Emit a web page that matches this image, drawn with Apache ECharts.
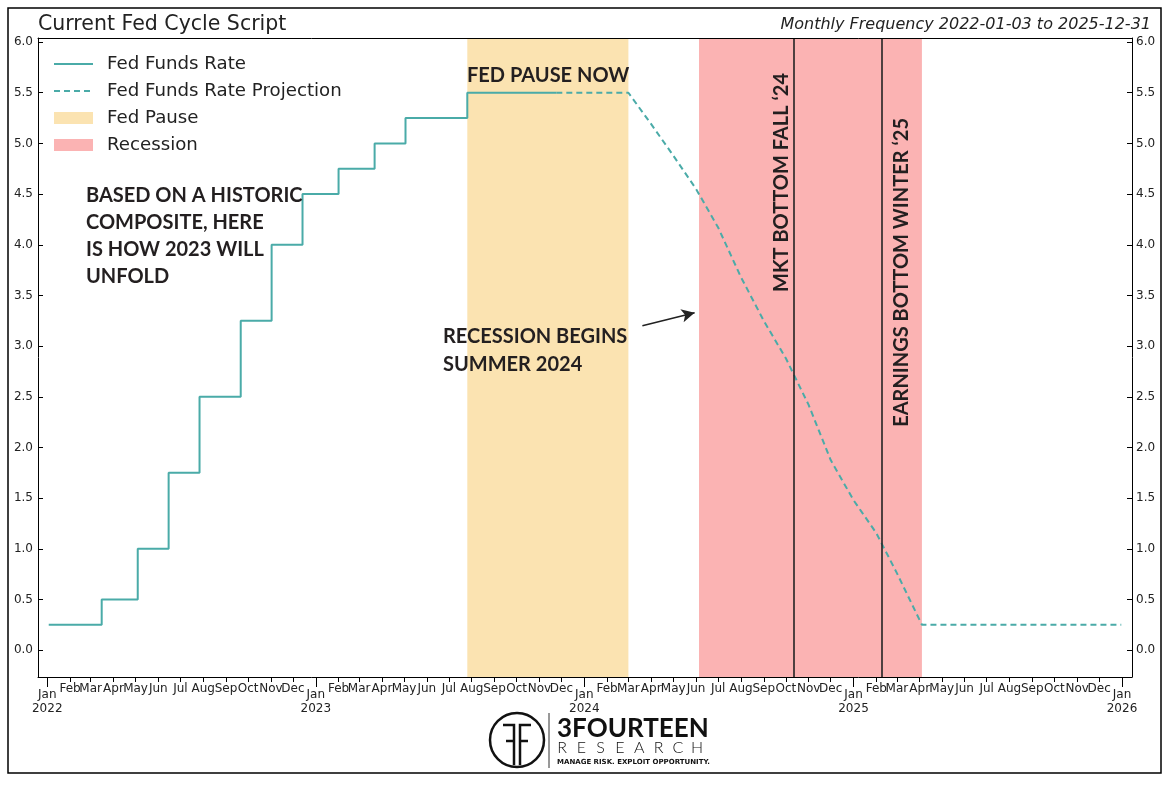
<!DOCTYPE html>
<html>
<head>
<meta charset="utf-8">
<script src="https://cdn.jsdelivr.net/npm/echarts@6/dist/echarts.min.js"></script>
<style>
html,body{margin:0;padding:0;background:#fff;}
#chart{width:1171px;height:785px;}
</style>
</head>
<body>
<div id="chart"></div>
<script>
// ---------------- data ----------------
const rateDates  = ['2022-01-03','2022-03-16','2022-05-04','2022-06-15','2022-07-27','2022-09-21','2022-11-02','2022-12-14','2023-02-01','2023-03-22','2023-05-03','2023-07-26','2023-11-24'];
const rateValues = [0.25, 0.5, 1.0, 1.75, 2.5, 3.25, 4.0, 4.5, 4.75, 5.0, 5.25, 5.5, 5.5];

const projDates  = ['2023-11-24','2024-03-01','2024-04-01','2024-05-01','2024-06-01','2024-07-01','2024-08-01','2024-09-01','2024-10-01','2024-11-01','2024-12-01','2025-01-01','2025-02-01','2025-03-01','2025-04-04','2025-12-31'];
const projValues = [5.5, 5.5, 5.19, 4.88, 4.55, 4.17, 3.68, 3.25, 2.88, 2.42, 1.875, 1.48, 1.155, 0.76, 0.25, 0.25];

const pauseRange     = ['2023-07-26', '2024-03-01'];
const recessionRange = ['2024-06-05', '2025-04-04'];
const eventDates     = ['2024-10-12', '2025-02-08'];
const arrowFrom      = ['2024-03-20', 3.20];
const arrowTo        = ['2024-05-30', 3.33];

const monthLabels = ['Jan','Feb','Mar','Apr','May','Jun','Jul','Aug','Sep','Oct','Nov','Dec'];
const yTickValues = [0, 0.5, 1.0, 1.5, 2.0, 2.5, 3.0, 3.5, 4.0, 4.5, 5.0, 5.5, 6.0];
const tickYears   = [2022, 2023, 2024, 2025, 2026];

// ---------------- helpers ----------------
const ts = s => { const p = s.split('-').map(Number); return new Date(p[0], p[1] - 1, p[2]).getTime(); };
const xMin = new Date(2021, 11, 19, 10).getTime();
const xMax = new Date(2026, 0, 14, 14).getTime();
const yMin = -0.265, yMax = 6.04;

const monthTicks = [], evenMonths = [], oddMonths = [];
for (let y = 2022; y <= 2025; y++) {
  for (let m = 1; m < 12; m++) {
    const t = new Date(y, m, 1).getTime();
    monthTicks.push(t);
    (m % 2 === 1 ? evenMonths : oddMonths).push(t); // m=1 -> Feb
  }
}
const yearTicks = tickYears.map(y => new Date(y, 0, 1).getTime());

const teal = '#4aaba8';
const pauseColor = '#fbe3b1';
const recColor = '#fbb3b3';
const FONT = 'DejaVu Sans';
const annFont = 'bold 20px Lato';

const chart = echarts.init(document.getElementById('chart'), null, {renderer: 'canvas'});

const baseX = {
  type: 'value', min: xMin, max: xMax, position: 'bottom', z: 10, scale: true,
  splitLine: {show: false}, axisPointer: {show: false}
};
const monthLabelStyle = (vals) => ({
  show: true, margin: 6, color: '#222', fontFamily: FONT, fontSize: 12, customValues: vals,
  hideOverlap: false, formatter: v => monthLabels[new Date(v).getMonth()]
});

const yAxisCommon = (pos) => ({
  type: 'value', min: yMin, max: yMax, position: pos, z: 10,
  axisLine: {show: true, onZero: false, lineStyle: {color: '#000', width: 1}},
  axisTick: {show: true, inside: true, length: 5, lineStyle: {color: '#000'}, customValues: yTickValues},
  axisLabel: {show: true, margin: pos === 'left' ? 5 : 4, color: '#222', fontFamily: FONT, fontSize: 12,
    hideOverlap: false, showMinLabel: true, showMaxLabel: true,
    customValues: yTickValues, formatter: v => Number(v).toFixed(1)},
  splitLine: {show: false}
});

// logo letters
const logoGraphics = [];
'RESEARCH'.split('').forEach((ch, i) => {
  logoGraphics.push({type: 'text', x: 562 + i * 19.3, y: 748, z: 100,
    style: {text: ch, font: '300 16px Lato', fill: '#111', align: 'center', verticalAlign: 'middle'}});
});

const option = {
  animation: false,
  backgroundColor: '#fff',
  grid: {left: 38, right: 39, top: 38, bottom: 108, show: false, containLabel: false},
  legend: {
    orient: 'vertical', left: 53, top: 55, padding: 0, itemWidth: 39, itemHeight: 12, itemGap: 9,
    textStyle: {fontFamily: FONT, fontSize: 18.2, color: '#222', padding: [0, 0, 0, 9], lineHeight: 18},
    data: [
      {name: 'Fed Funds Rate', itemStyle: {opacity: 0}},
      {name: 'Fed Funds Rate Projection', itemStyle: {opacity: 0}},
      {name: 'Fed Pause', icon: 'rect', itemStyle: {color: pauseColor}},
      {name: 'Recession', icon: 'rect', itemStyle: {color: recColor}}
    ]
  },
  xAxis: [
    Object.assign({}, baseX, {
      axisLine: {show: true, onZero: false, lineStyle: {color: '#000', width: 1}},
      axisTick: {show: true, length: 5, lineStyle: {color: '#000'}, customValues: monthTicks},
      axisLabel: monthLabelStyle(evenMonths)
    }),
    Object.assign({}, baseX, {
      axisLine: {show: false, onZero: false},
      axisTick: {show: false},
      axisLabel: monthLabelStyle(oddMonths)
    }),
    Object.assign({}, baseX, {
      axisLine: {show: false, onZero: false},
      axisTick: {show: true, length: 10, lineStyle: {color: '#000'}, customValues: yearTicks},
      axisLabel: {show: true, margin: 11, color: '#222', fontFamily: FONT, fontSize: 12, lineHeight: 14, customValues: yearTicks,
        hideOverlap: false, showMinLabel: true, showMaxLabel: true,
        formatter: v => 'Jan\n' + new Date(v).getFullYear()}
    }),
    Object.assign({}, baseX, {
      position: 'top',
      axisLine: {show: true, onZero: false, lineStyle: {color: '#000', width: 1}},
      axisTick: {show: false}, axisLabel: {show: false}
    })
  ],
  yAxis: [yAxisCommon('left'), yAxisCommon('right')],
  series: [
    {
      name: 'Fed Pause', type: 'line', data: [], color: pauseColor, symbol: 'none', silent: true, z: 1,
      markArea: {silent: true, itemStyle: {color: pauseColor, opacity: 1},
        data: [[{xAxis: ts(pauseRange[0])}, {xAxis: ts(pauseRange[1])}]]}
    },
    {
      name: 'Recession', type: 'line', data: [], color: recColor, symbol: 'none', silent: true, z: 1,
      markArea: {silent: true, itemStyle: {color: recColor, opacity: 1},
        data: [[{xAxis: ts(recessionRange[0])}, {xAxis: ts(recessionRange[1])}]]}
    },
    {
      name: 'events', type: 'line', data: [], symbol: 'none', silent: true, z: 2,
      markLine: {silent: true, symbol: 'none', label: {show: false},
        lineStyle: {color: '#222', width: 1.6, type: 'solid'},
        data: eventDates.map(d => ({xAxis: ts(d)}))}
    },
    {
      name: 'Fed Funds Rate', type: 'line', step: 'end', symbol: 'none', z: 3,
      color: teal, lineStyle: {color: teal, width: 2},
      data: rateDates.map((d, i) => [ts(d), rateValues[i]])
    },
    {
      name: 'Fed Funds Rate Projection', type: 'line', symbol: 'none', z: 3,
      color: teal, lineStyle: {color: teal, width: 2, type: [6, 4]},
      data: projDates.map((d, i) => [ts(d), projValues[i]])
    },
    {
      name: 'arrow', type: 'line', data: [], symbol: 'none', silent: true, z: 4,
      markLine: {silent: true, label: {show: false}, lineStyle: {color: '#222', width: 1.6, type: 'solid'},
        symbol: ['none', 'arrow'], symbolSize: [10, 13],
        data: [[{coord: [ts(arrowFrom[0]), arrowFrom[1]]}, {coord: [ts(arrowTo[0]), arrowTo[1]]}]]}
    }
  ],
  graphic: [
    {type: 'rect', z: 100, shape: {x: 8, y: 8, width: 1153, height: 765},
      style: {fill: 'none', stroke: '#000', lineWidth: 1.5}},
    {type: 'text', x: 38, y: 25, z: 100,
      style: {text: 'Current Fed Cycle Script', font: '20.5px "DejaVu Sans"', fill: '#222', align: 'left', verticalAlign: 'middle'}},
    {type: 'text', x: 1151, y: 25, z: 100,
      style: {text: 'Monthly Frequency 2022-01-03 to 2025-12-31', font: 'italic 16px "DejaVu Sans"', fill: '#222', align: 'right', verticalAlign: 'middle'}},
    {type: 'text', x: 86, y: 182, z: 100,
      style: {text: 'BASED ON A HISTORIC\nCOMPOSITE, HERE\nIS HOW 2023 WILL\nUNFOLD', font: annFont, lineHeight: 27, fill: '#231f20', align: 'left', verticalAlign: 'top'}},
    {type: 'text', x: 467, y: 76, z: 100,
      style: {text: 'FED PAUSE NOW', font: annFont, fill: '#231f20', align: 'left', verticalAlign: 'middle'}},
    {type: 'text', x: 443, y: 323, z: 100,
      style: {text: 'RECESSION BEGINS\nSUMMER 2024', font: annFont, lineHeight: 28, fill: '#231f20', align: 'left', verticalAlign: 'top'}},
    {type: 'text', x: 782, y: 73, rotation: Math.PI / 2, z: 100,
      style: {text: 'MKT BOTTOM FALL \u201824', font: annFont, fill: '#231f20', align: 'right', verticalAlign: 'middle'}},
    {type: 'text', x: 902, y: 118, rotation: Math.PI / 2, z: 100,
      style: {text: 'EARNINGS BOTTOM WINTER \u201825', font: annFont, fill: '#231f20', align: 'right', verticalAlign: 'middle'}},
    // logo
    {type: 'circle', z: 100, shape: {cx: 517, cy: 740, r: 27}, style: {fill: 'none', stroke: '#111', lineWidth: 2.5}},
    {type: 'polyline', z: 100, shape: {points: [[503, 725], [514, 725], [514, 765]]}, style: {fill: 'none', stroke: '#111', lineWidth: 2.5}},
    {type: 'polyline', z: 100, shape: {points: [[506, 741], [514, 741]]}, style: {fill: 'none', stroke: '#111', lineWidth: 2.5}},
    {type: 'polyline', z: 100, shape: {points: [[531, 725], [520, 725], [520, 765]]}, style: {fill: 'none', stroke: '#111', lineWidth: 2.5}},
    {type: 'polyline', z: 100, shape: {points: [[520, 741], [528, 741]]}, style: {fill: 'none', stroke: '#111', lineWidth: 2.5}},
    {type: 'line', z: 100, shape: {x1: 549, y1: 713, x2: 549, y2: 768}, style: {stroke: '#333', lineWidth: 1}},
    {type: 'text', x: 557, y: 729, z: 100,
      style: {text: '3FOURTEEN', font: 'bold 26px Lato', fill: '#111', align: 'left', verticalAlign: 'middle'}},
    {type: 'text', x: 557, y: 762, z: 100,
      style: {text: 'MANAGE RISK. EXPLOIT OPPORTUNITY.', font: 'bold 7px "DejaVu Sans"', fill: '#111', align: 'left', verticalAlign: 'middle'}}
  ].concat(logoGraphics)
};

chart.setOption(option);
</script>
</body>
</html>
